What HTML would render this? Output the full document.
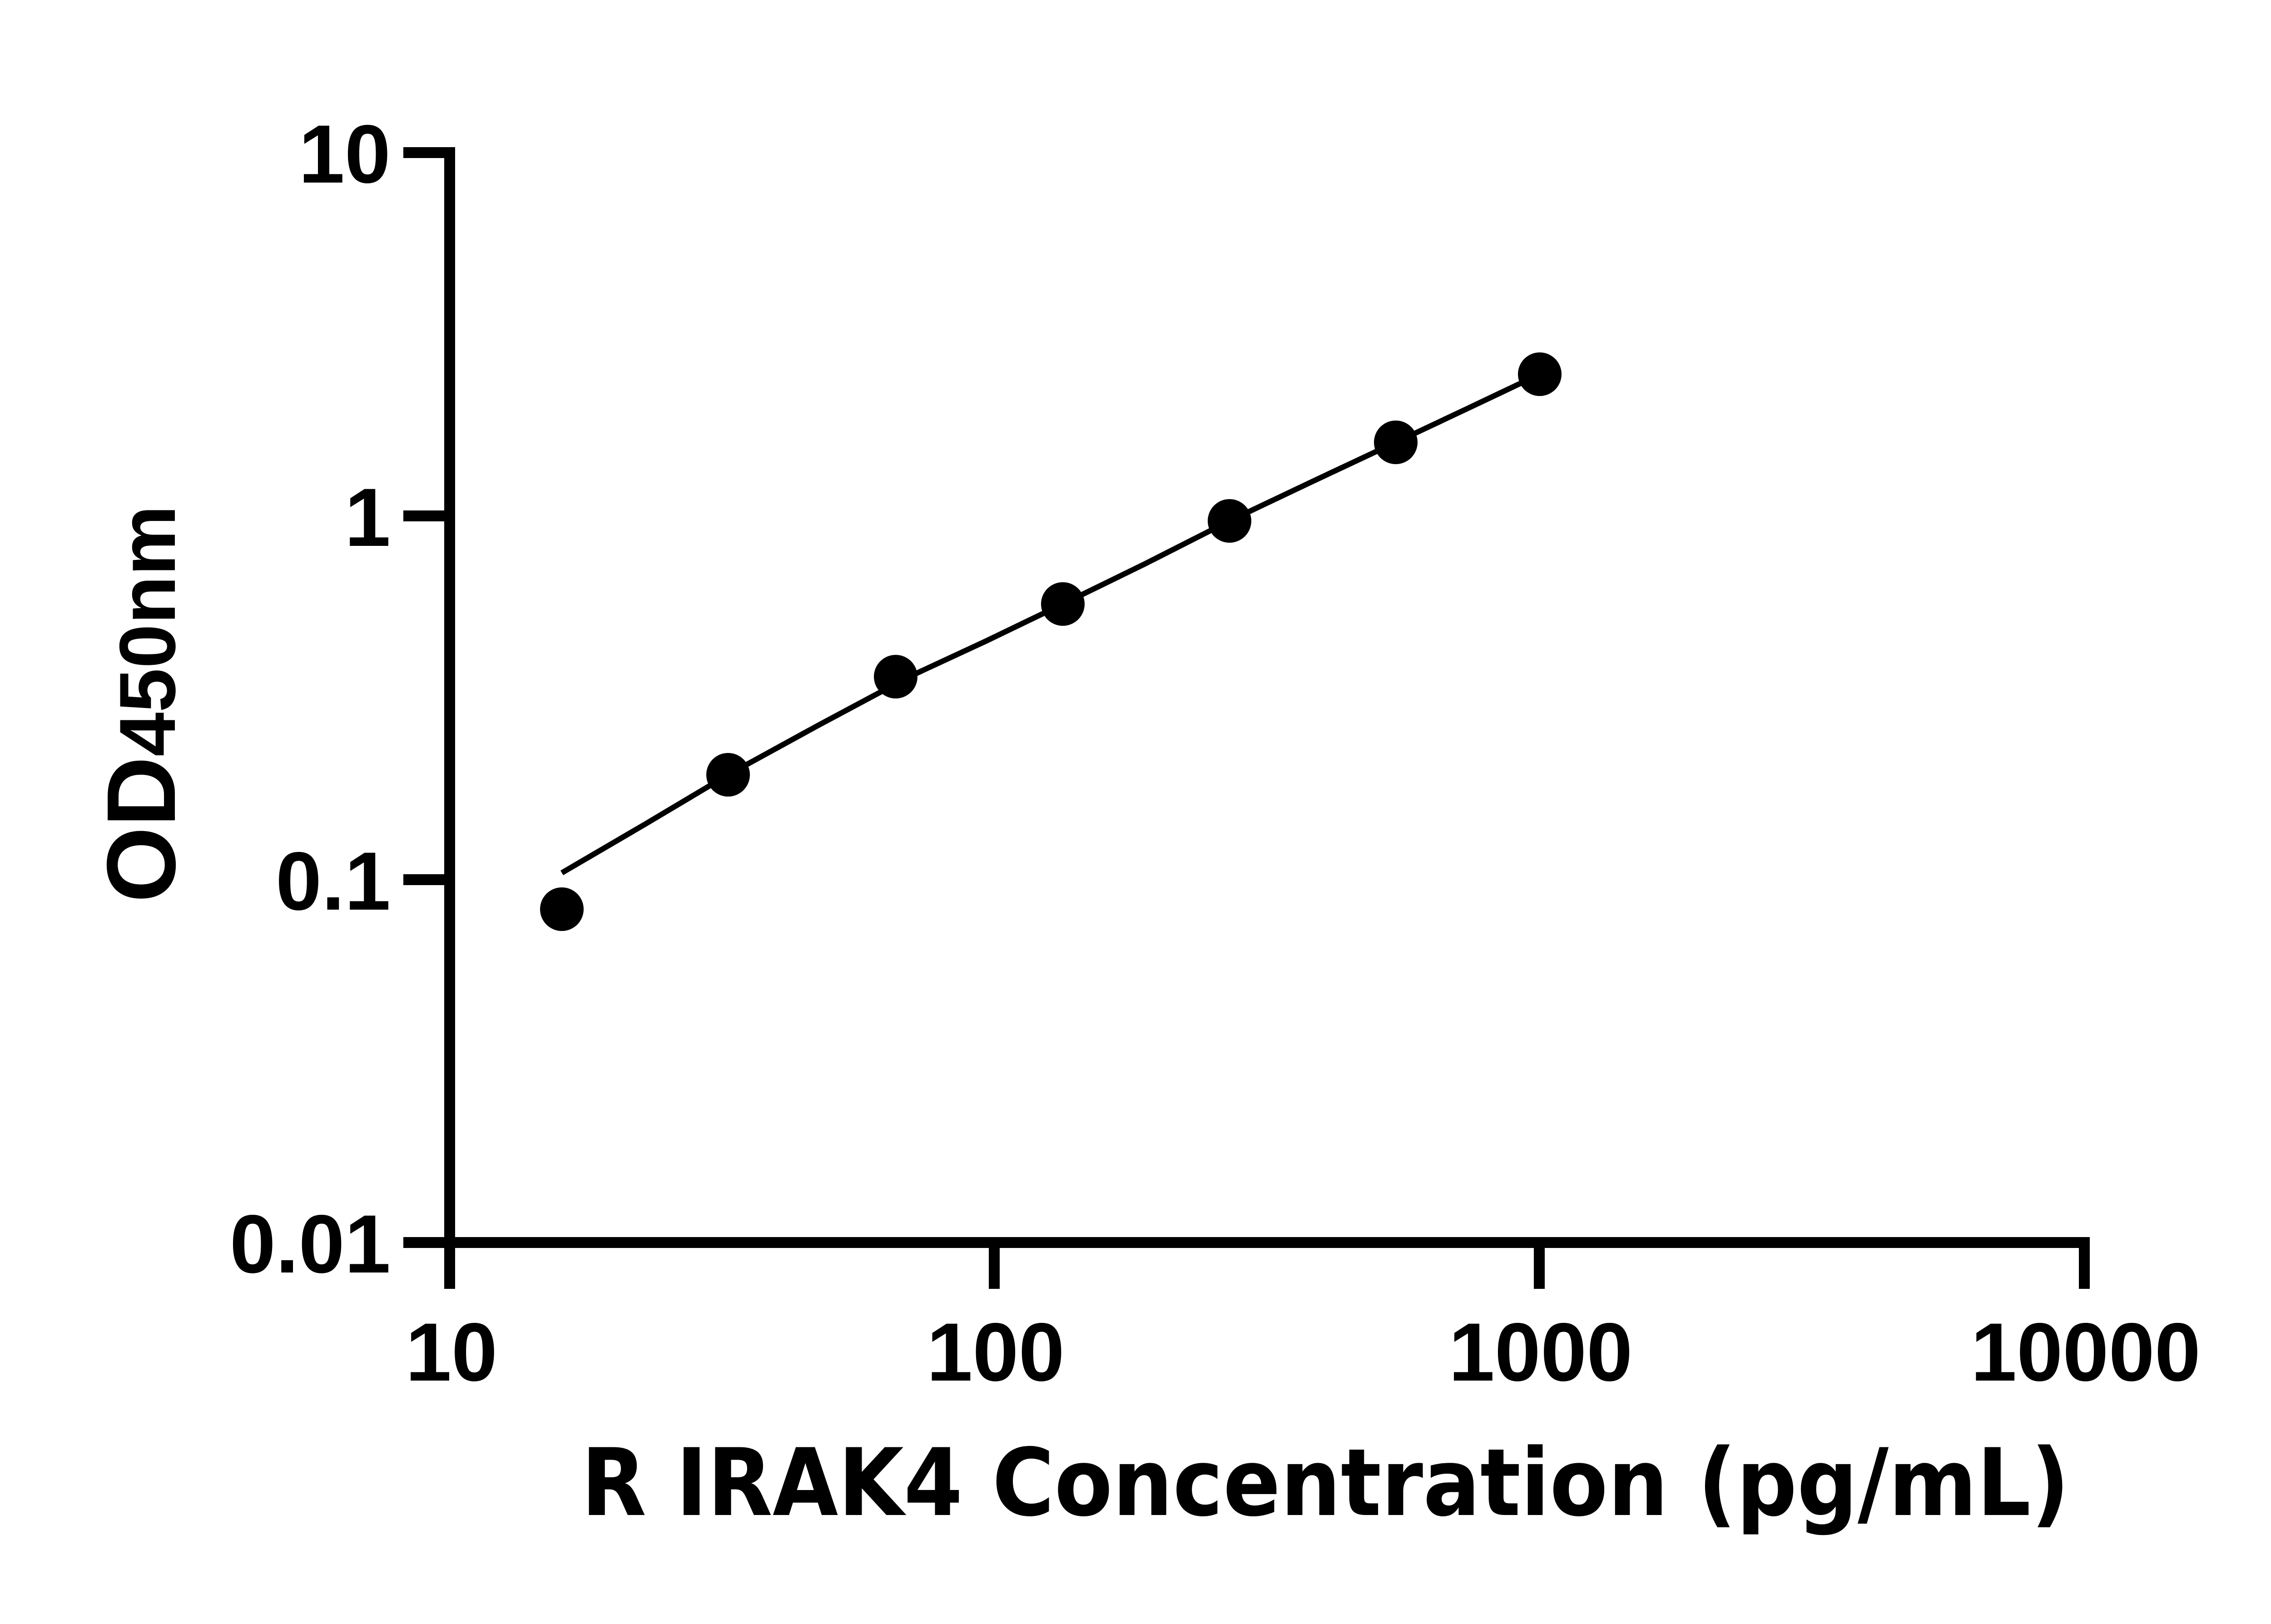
<!DOCTYPE html>
<html><head><meta charset="utf-8"><style>
html,body{margin:0;padding:0;background:#fff;}
svg{display:block}
.t{font-family:"Liberation Sans",Arial,sans-serif;font-weight:bold;}
</style></head><body>
<svg width="5142" height="3576" viewBox="0 0 5142 3576" xmlns="http://www.w3.org/2000/svg">
<rect width="5142" height="3576" fill="#fff"/>
<g stroke="#000" stroke-width="24" fill="none" stroke-linecap="butt">
<line x1="990" y1="324" x2="990" y2="2838"/>
<line x1="978" y1="2736" x2="4601" y2="2736"/>
<line x1="888" y1="336" x2="1002" y2="336"/>
<line x1="888" y1="1136" x2="1002" y2="1136"/>
<line x1="888" y1="1937" x2="1002" y2="1937"/>
<line x1="888" y1="2736" x2="1002" y2="2736"/>
<line x1="2189" y1="2736" x2="2189" y2="2838"/>
<line x1="3389" y1="2736" x2="3389" y2="2838"/>
<line x1="4589" y1="2724" x2="4589" y2="2838"/>
</g>
<g class="t" font-size="182" fill="#000">
<text x="860" y="402" text-anchor="end">10</text>
<text x="860" y="1202" text-anchor="end">1</text>
<text x="860" y="2003" text-anchor="end">0.1</text>
<text x="860" y="2802" text-anchor="end">0.01</text>
<text x="994" y="3040" text-anchor="middle">10</text>
<text x="2192" y="3040" text-anchor="middle">100</text>
<text x="3392" y="3040" text-anchor="middle">1000</text>
<text x="4592" y="3040" text-anchor="middle">10000</text>
</g>
<text x="2918" y="3336" text-anchor="middle" style="font-family:'DejaVu Sans',sans-serif;font-weight:bold" font-size="205" textLength="3277" lengthAdjust="spacingAndGlyphs">R IRAK4 Concentration (pg/mL)</text>
<text transform="translate(385,1550) rotate(-90)" text-anchor="middle" class="t" fill="#000" textLength="875" lengthAdjust="spacingAndGlyphs"><tspan font-size="215" style="font-weight:bold">OD</tspan><tspan font-size="175" style="font-weight:bold">450nm</tspan></text>
<polyline fill="none" stroke="#000" stroke-width="12" points="1237,1922 1420,1815 1603,1706 1800,1598 2002,1490 2170,1412 2340,1330 2520,1242 2707,1147 2890,1060 3073,974 3230,900 3390,824"/>
<g fill="#000">
<circle cx="1237" cy="2002" r="48"/>
<circle cx="1603" cy="1706" r="48"/>
<circle cx="1972" cy="1490" r="48"/>
<circle cx="2340" cy="1330" r="48"/>
<circle cx="2707" cy="1147" r="48"/>
<circle cx="3073" cy="974" r="48"/>
<circle cx="3390" cy="824" r="48"/>
</g>
</svg>
</body></html>
